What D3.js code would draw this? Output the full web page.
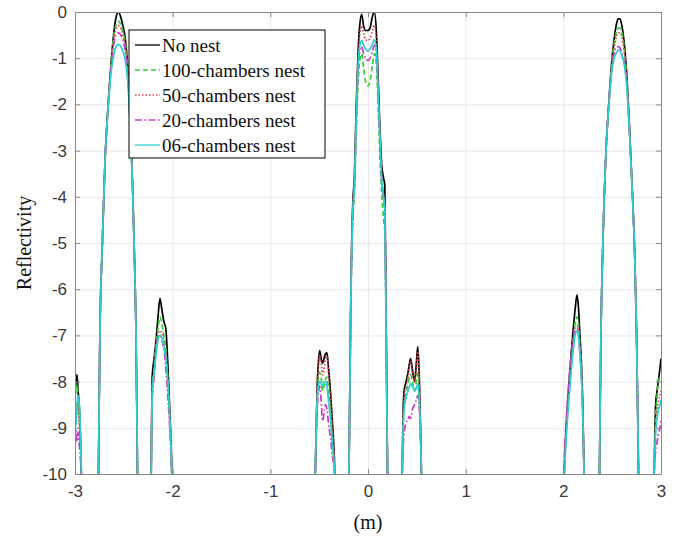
<!DOCTYPE html>
<html>
<head>
<meta charset="utf-8">
<script src="https://cdn.jsdelivr.net/npm/d3@7"></script>
<style>
  body { margin: 0; background: #fff; }
  svg { display: block; }
  .tick text { font-family: "Liberation Sans", Arial, sans-serif; font-size: 17px; fill: #3a3a3a; }
  .lbl { font-family: "Liberation Serif", "Times New Roman", serif; fill: #111; }
</style>
</head>
<body>
<svg id="chart" width="674" height="539"></svg>
<script>
// sample positions of each lobe (m); the curve dips below -10 between lobes
const xPos = [
  [-3.0, -2.99, -2.98, -2.97, -2.955, -2.935, -2.92],
  [-2.78, -2.76, -2.745, -2.72, -2.69, -2.66, -2.63, -2.605, -2.58, -2.555, -2.53, -2.51, -2.49, -2.46, -2.43, -2.41, -2.395, -2.375, -2.36, -2.34],
  [-2.235, -2.22, -2.21, -2.19, -2.17, -2.15, -2.13, -2.11, -2.09, -2.07, -2.05, -2.03, -2.01, -1.99],
  [-0.555, -0.54, -0.52, -0.505, -0.495, -0.48, -0.465, -0.45, -0.435, -0.42, -0.405, -0.385, -0.37, -0.355, -0.34, -0.325],
  [-0.215, -0.195, -0.175, -0.155, -0.14, -0.12, -0.10, -0.085, -0.065, -0.045, -0.025, 0, 0.02, 0.045, 0.065, 0.085, 0.10, 0.12, 0.14, 0.16, 0.172, 0.185, 0.20, 0.215],
  [0.335, 0.35, 0.36, 0.37, 0.39, 0.41, 0.425, 0.437, 0.455, 0.477, 0.495, 0.51, 0.525, 0.538, 0.547, 0.56],
  [1.985, 2.0, 2.02, 2.04, 2.06, 2.08, 2.10, 2.12, 2.14, 2.155, 2.17, 2.185, 2.2, 2.212, 2.225],
  [2.355, 2.37, 2.385, 2.405, 2.435, 2.465, 2.495, 2.52, 2.545, 2.565, 2.58, 2.60, 2.62, 2.645, 2.675, 2.705, 2.73, 2.75, 2.77, 2.785],
  [2.915, 2.93, 2.945, 2.96, 2.975, 2.99, 3.0]
];

const noNest = [
  [-7.85, -8.1, -7.85, -8.15, -8.6, -10, -12],
  [-13, -10, -7, -5, -3.1, -2.0, -1.1, -0.5, -0.12, 0, -0.12, -0.3, -0.5, -1.2, -2.6, -3.8, -5, -7, -10, -13],
  [-13, -10, -7.9, -7.5, -7.1, -6.6, -6.2, -6.45, -6.7, -6.85, -7.6, -8.6, -9.8, -12],
  [-12, -10, -8.1, -7.5, -7.33, -7.5, -7.6, -7.5, -7.4, -7.38, -7.7, -8.2, -8.7, -9.2, -10, -12],
  [-13, -10, -6.0, -4.1, -3.6, -2.0, -0.8, -0.3, -0.05, -0.3, -0.4, -0.4, -0.35, -0.1, 0, -0.4, -1.2, -2.4, -3.3, -3.6, -3.75, -6.5, -10, -13],
  [-12, -10, -8.6, -8.2, -8.0, -7.8, -7.6, -7.5, -7.75, -8.0, -7.6, -7.24, -7.9, -9.0, -10, -12],
  [-12, -10.6, -9.4, -8.6, -8.0, -7.4, -6.9, -6.45, -6.12, -6.4, -7.0, -7.6, -8.6, -10, -12],
  [-13, -10, -7, -5, -3.1, -2.0, -1.1, -0.6, -0.25, -0.15, -0.15, -0.3, -0.6, -1.2, -2.4, -3.8, -5.2, -7.0, -10, -13],
  [-12, -10, -8.5, -8.2, -7.95, -7.7, -7.5]
];

const nest100 = [
  [-8.0, -8.25, -8.05, -8.3, -8.8, -10, -12],
  [-13, -10, -7, -5, -3.1, -2.0, -1.1, -0.55, -0.28, -0.2, -0.28, -0.42, -0.6, -1.25, -2.6, -3.8, -5, -7, -10, -13],
  [-13, -10, -8.2, -7.7, -7.2, -6.85, -6.6, -6.75, -7.0, -7.3, -7.9, -8.7, -9.9, -12],
  [-12, -10, -8.3, -7.9, -7.8, -7.9, -8.2, -8.1, -7.95, -7.9, -8.2, -8.6, -9.0, -9.5, -10, -12],
  [-13, -10, -6.3, -4.5, -4.0, -2.6, -1.5, -1.05, -0.9, -1.2, -1.5, -1.6, -1.5, -1.15, -0.9, -1.1, -1.8, -3.0, -3.9, -4.5, -4.75, -6.9, -10, -13],
  [-12, -10, -8.9, -8.5, -8.25, -8.05, -7.9, -7.85, -8.0, -8.2, -8.0, -7.8, -8.2, -9.2, -10, -12],
  [-12, -10.6, -9.5, -8.7, -8.1, -7.55, -7.1, -6.75, -6.6, -6.75, -7.2, -7.7, -8.7, -10, -12],
  [-13, -10, -7, -5, -3.1, -2.0, -1.15, -0.7, -0.42, -0.35, -0.35, -0.45, -0.72, -1.3, -2.45, -3.8, -5.2, -7.0, -10, -13],
  [-12, -10, -8.8, -8.3, -8.0, -7.9, -7.9]
];

const nest50 = [
  [-8.5, -8.7, -8.45, -8.6, -9.0, -10, -12],
  [-13, -10, -7, -5, -3.1, -2.0, -1.15, -0.62, -0.36, -0.3, -0.36, -0.5, -0.68, -1.3, -2.62, -3.8, -5, -7, -10, -13],
  [-13, -10, -8.3, -7.8, -7.3, -7.0, -6.9, -6.95, -7.15, -7.45, -8.0, -8.8, -9.9, -12],
  [-12, -10, -8.2, -7.6, -7.42, -7.6, -7.85, -7.75, -7.5, -7.45, -7.8, -8.3, -8.8, -9.3, -10, -12],
  [-13, -10, -6.1, -4.2, -3.75, -2.2, -1.0, -0.5, -0.3, -0.45, -0.6, -0.62, -0.58, -0.4, -0.28, -0.6, -1.35, -2.6, -3.5, -3.95, -4.2, -6.6, -10, -13],
  [-12, -10, -8.7, -8.3, -8.1, -7.9, -7.65, -7.55, -7.8, -8.0, -7.7, -7.35, -8.0, -9.1, -10, -12],
  [-12, -10.5, -9.4, -8.65, -8.05, -7.5, -7.1, -6.85, -6.8, -6.9, -7.3, -7.8, -8.75, -10, -12],
  [-13, -10, -7, -5, -3.1, -2.02, -1.2, -0.78, -0.52, -0.45, -0.45, -0.55, -0.8, -1.35, -2.48, -3.82, -5.2, -7.0, -10, -13],
  [-12, -10, -9.0, -8.6, -8.4, -8.3, -8.2]
];

const nest20 = [
  [-9.25, -9.05, -9.3, -9.1, -9.4, -10.1, -12],
  [-13, -10, -7, -5, -3.1, -2.02, -1.2, -0.72, -0.5, -0.45, -0.5, -0.6, -0.78, -1.38, -2.65, -3.82, -5, -7, -10, -13],
  [-13, -10, -8.4, -7.9, -7.3, -7.05, -7.0, -7.1, -7.3, -7.7, -8.3, -9.0, -10, -12],
  [-12, -10, -8.6, -8.2, -8.1, -8.4, -8.85, -8.7, -8.5, -8.6, -8.9, -9.2, -9.5, -9.75, -10, -12],
  [-13, -10, -6.2, -4.3, -3.85, -2.4, -1.2, -0.85, -0.75, -0.9, -1.0, -1.05, -1.0, -0.85, -0.72, -0.9, -1.55, -2.7, -3.65, -4.05, -4.3, -6.7, -10, -13],
  [-12, -10, -9.4, -9.1, -8.9, -8.8, -8.75, -8.8, -8.6, -8.5, -8.4, -8.3, -8.6, -9.3, -10, -12],
  [-12, -10.3, -9.2, -8.5, -7.9, -7.45, -7.1, -6.9, -6.85, -7.0, -7.4, -7.9, -8.8, -10, -12],
  [-13, -10, -7, -5, -3.1, -2.03, -1.25, -0.9, -0.76, -0.75, -0.78, -0.88, -1.05, -1.45, -2.5, -3.84, -5.2, -7.0, -10, -13],
  [-12, -10, -9.5, -9.3, -9.1, -9.0, -8.8]
];

const nest06 = [
  [-8.85, -8.95, -8.6, -8.3, -8.5, -10, -12],
  [-13, -10, -7, -5, -3.1, -2.05, -1.3, -0.95, -0.75, -0.7, -0.75, -0.85, -1.0, -1.5, -2.7, -3.85, -5, -7, -10, -13],
  [-13, -10, -8.3, -7.8, -7.4, -7.1, -7.0, -7.05, -7.25, -7.5, -8.0, -8.8, -9.9, -12],
  [-12, -10, -8.4, -8.05, -8.0, -8.05, -8.1, -8.0, -8.0, -8.1, -8.4, -8.8, -9.2, -9.6, -10, -12],
  [-13, -10, -6.2, -4.3, -3.8, -2.3, -1.1, -0.75, -0.62, -0.72, -0.8, -0.85, -0.8, -0.7, -0.6, -0.8, -1.5, -2.6, -3.6, -4.0, -4.25, -6.8, -10, -13],
  [-12, -10, -9.0, -8.6, -8.35, -8.2, -8.1, -8.05, -8.1, -8.2, -8.15, -8.05, -8.4, -9.2, -10, -12],
  [-12, -10.7, -9.6, -8.9, -8.3, -7.8, -7.35, -7.0, -6.9, -7.0, -7.4, -7.9, -8.8, -10, -12],
  [-13, -10, -7, -5, -3.1, -2.05, -1.3, -1.0, -0.88, -0.82, -0.85, -0.95, -1.1, -1.5, -2.5, -3.85, -5.2, -7, -10, -13],
  [-12, -10, -9.1, -8.8, -8.6, -8.5, -8.4]
];

const seriesNames = ["No nest", "100-chambers nest", "50-chambers nest", "20-chambers nest", "06-chambers nest"];
const seriesData = [noNest, nest100, nest50, nest20, nest06];
const xTicks = [-3, -2, -1, 0, 1, 2, 3];
const yTicks = [0, -1, -2, -3, -4, -5, -6, -7, -8, -9, -10];

// line looks, same order as seriesNames
const colors = ["#000000", "#33cc33", "#d9424a", "#c837c8", "#2ccfd3"];
const dashes = [null, "5,3", "1.5,2", "7,2.5,1.5,2.5", null];

const svg = d3.select("#chart");
const margin = {left: 75, right: 13, top: 12, bottom: 65};
const width = 674 - margin.left - margin.right;
const height = 539 - margin.top - margin.bottom;

const x = d3.scaleLinear().domain([-3, 3]).range([0, width]);
const y = d3.scaleLinear().domain([-10, 0]).range([height, 0]);

const g = svg.append("g").attr("transform", "translate(" + margin.left + "," + margin.top + ")");

// grid
g.append("g").attr("transform", "translate(0," + height + ")")
  .call(d3.axisBottom(x).tickValues(xTicks).tickSize(-height).tickFormat(""))
  .call(a => a.selectAll("line").attr("stroke", "#e8e8e8"))
  .call(a => a.select(".domain").remove());
g.append("g")
  .call(d3.axisLeft(y).tickValues(yTicks).tickSize(-width).tickFormat(""))
  .call(a => a.selectAll("line").attr("stroke", "#e8e8e8"))
  .call(a => a.select(".domain").remove());

// curves
g.append("clipPath").attr("id", "clip")
  .append("rect").attr("width", width).attr("height", height);

const line = d3.line()
  .x(d => x(d[0]))
  .y(d => y(d[1]))
  .curve(d3.curveMonotoneX);

const plot = g.append("g").attr("clip-path", "url(#clip)");
seriesData.forEach((s, i) => {
  s.forEach((lobe, j) => {
    const pts = lobe.map((v, k) => [xPos[j][k], v]);
    plot.append("path")
      .datum(pts)
      .attr("d", line)
      .attr("fill", "none")
      .attr("stroke", colors[i])
      .attr("stroke-width", 1.7)
      .attr("stroke-dasharray", dashes[i]);
  });
});

// axes, ticks pointing inward
const axColor = "#888";
const xAxis = g.append("g").attr("transform", "translate(0," + height + ")")
  .call(d3.axisBottom(x).tickValues(xTicks).tickSize(-5).tickPadding(11).tickFormat(d3.format("d")));
const xTop = g.append("g")
  .call(d3.axisTop(x).tickValues(xTicks).tickSize(-5).tickFormat(""));
const yAxis = g.append("g")
  .call(d3.axisLeft(y).tickValues(yTicks).tickSize(-5).tickPadding(8).tickFormat(d3.format("d")));
const yRight = g.append("g").attr("transform", "translate(" + width + ",0)")
  .call(d3.axisRight(y).tickValues(yTicks).tickSize(-5).tickFormat(""));
[xAxis, xTop, yAxis, yRight].forEach(a => {
  a.select(".domain").attr("stroke", axColor);
  a.selectAll(".tick line").attr("stroke", axColor);
});
xAxis.selectAll("text").text(d => d < 0 ? "-" + Math.abs(d) : d);
yAxis.selectAll("text").text(d => d < 0 ? "-" + Math.abs(d) : d);

// axis titles
svg.append("text").attr("class", "lbl")
  .attr("transform", "translate(24," + (margin.top + height / 2) + ") rotate(-90)")
  .attr("text-anchor", "middle").attr("dominant-baseline", "central")
  .style("font-size", "20px").text("Reflectivity");
svg.append("text").attr("class", "lbl")
  .attr("x", margin.left + width / 2).attr("y", 522)
  .attr("text-anchor", "middle").attr("dominant-baseline", "central")
  .style("font-size", "20px").text("(m)");

// legend
const legend = svg.append("g").attr("transform", "translate(129,30)");
legend.append("rect").attr("width", 196).attr("height", 128)
  .attr("fill", "#fff").attr("stroke", "#000").attr("stroke-width", 1);
seriesNames.forEach((name, i) => {
  const ly = 15 + i * 25;
  legend.append("line")
    .attr("x1", 6).attr("x2", 31).attr("y1", ly).attr("y2", ly)
    .attr("stroke", colors[i]).attr("stroke-width", 1.3)
    .attr("stroke-dasharray", dashes[i]);
  legend.append("text").attr("class", "lbl")
    .attr("x", 33).attr("y", ly)
    .attr("dominant-baseline", "central")
    .style("font-size", "19px").text(name);
});
</script>
</body>
</html>
